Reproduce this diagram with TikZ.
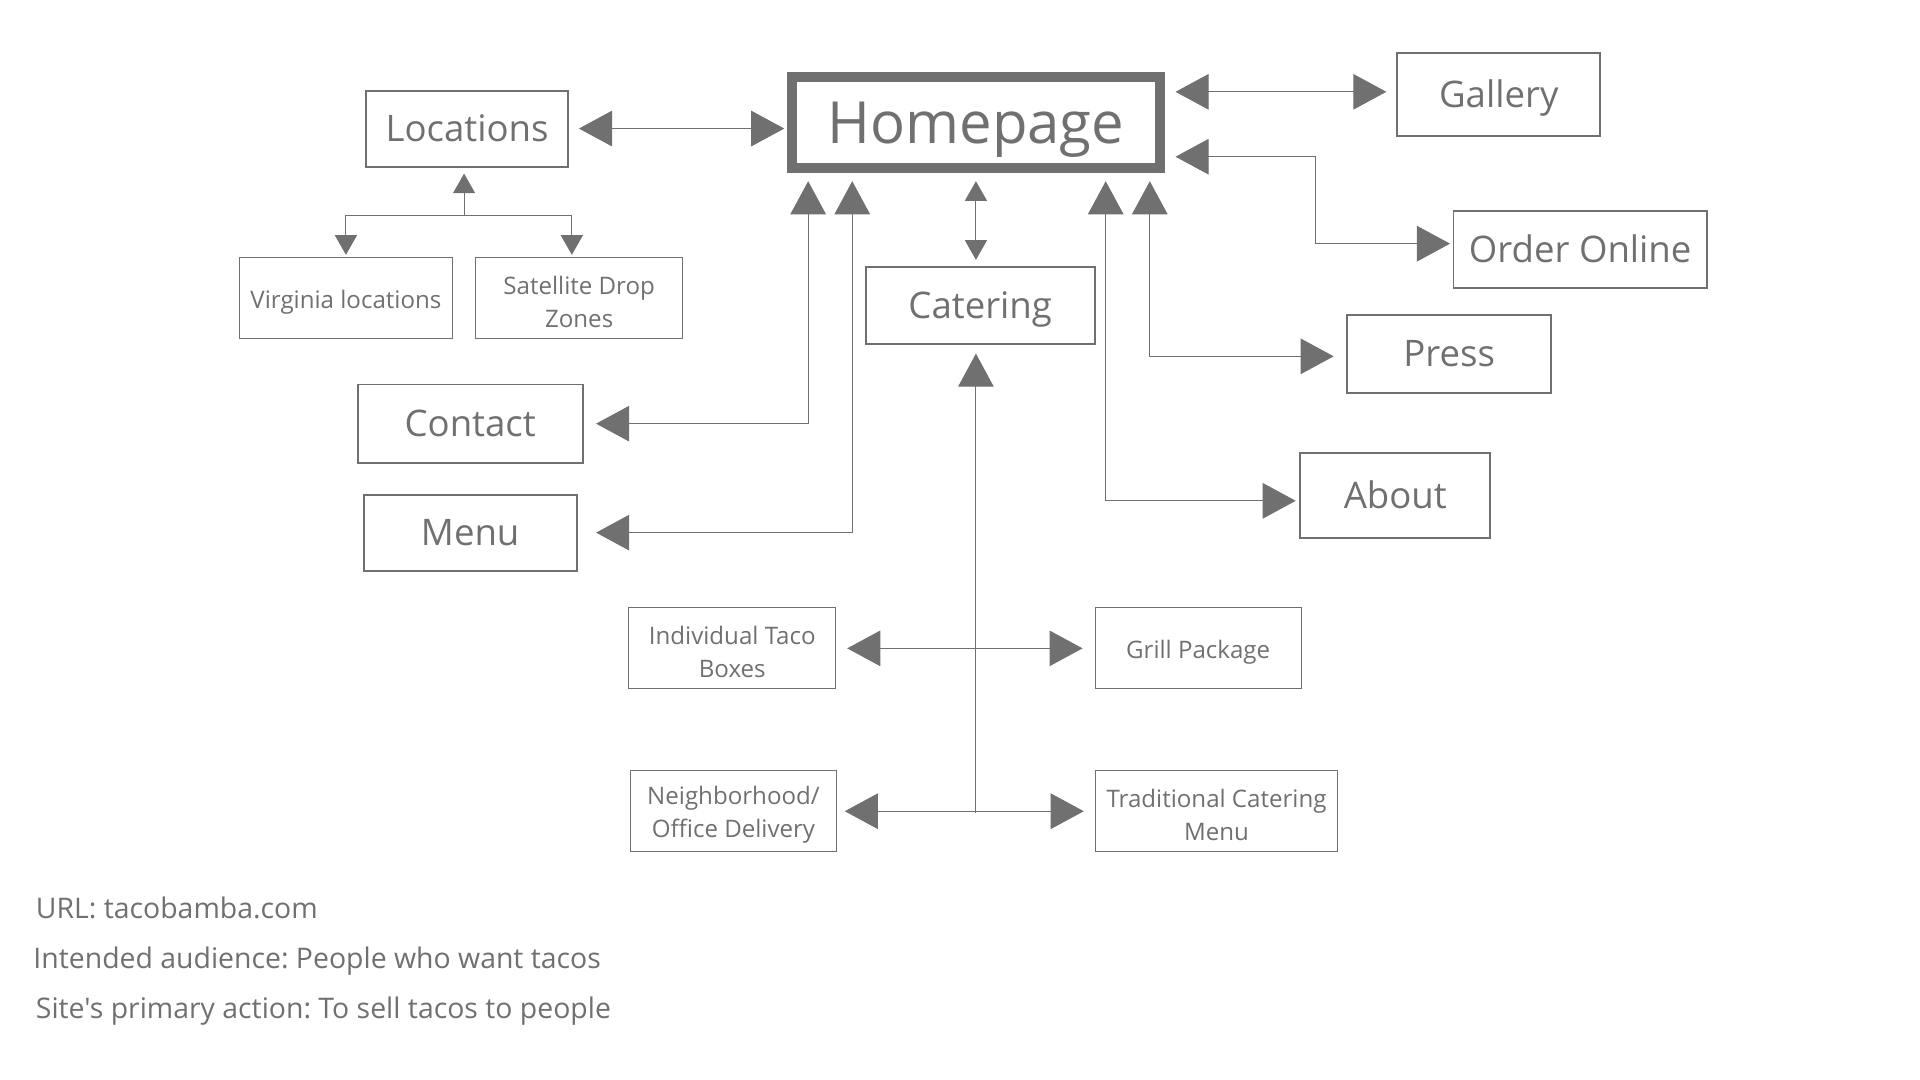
\documentclass[tikz,border=0pt]{standalone}
\usepackage{fontspec}
\setmainfont{Open Sans}
\usepackage{tikz}
\usetikzlibrary{
    arrows.meta,
    calc
}
\definecolor{mapGray}{RGB}{112, 112, 112}

\tikzset{
    homebox/.style={draw=mapGray, line width=1.6mm, text=mapGray, inner sep=0pt,
        font=\fontsize{27}{32}\selectfont, text height=19.3pt, text depth=0pt},
    page/.style={draw=mapGray, line width=0.32mm, text=mapGray, inner sep=0pt,
        font=\fontsize{17}{20}\selectfont, text height=12.1pt, text depth=0pt},
    subpage/.style={draw=mapGray, line width=0.16mm, text=mapGray, inner sep=0pt,
        align=center, minimum height=13.2mm, text height=11.9pt,
        font=\fontsize{11.2}{15.4}\selectfont},
    subpage2/.style={subpage, text height=27.3pt},
    note/.style={anchor=base west, inner sep=0pt, text=mapGray,
        font=\fontsize{13.2}{16}\selectfont\addfontfeatures{Ligatures=TeXOff}\frenchspacing},
    link/.style={draw=mapGray, line width=0.16mm},
    bighead/.tip={Triangle[length=5.4mm, width=5.8mm]},
    smallhead/.tip={Triangle[length=3.2mm, width=3.6mm]}
}

\begin{document}
\begin{tikzpicture}[x=0.2mm, y=-0.2mm]
    \useasboundingbox (0,0) rectangle (1568,882);

    % pages
    \node[homebox, minimum width=60mm, minimum height=14.8mm] (home) at (797,100) {Homepage};
    \node[page, minimum width=33mm, minimum height=12.4mm] (loc) at (381.5,105) {Locations};
    \node[page, minimum width=33.2mm, minimum height=13.6mm] (gallery) at (1224,77) {Gallery};
    \node[page, minimum width=41.4mm, minimum height=12.6mm] (order) at (1290.5,203.5) {Order Online};
    \node[page, minimum width=33.4mm, minimum height=12.8mm] (press) at (1183.5,289) {Press};
    \node[page, minimum width=31mm, minimum height=13.8mm] (about) at (1139.5,404.5) {About};
    \node[page, minimum width=37.4mm, minimum height=12.6mm] (catering) at (800.5,249.5) {Catering};
    \node[page, minimum width=36.8mm, minimum height=12.8mm] (contact) at (384,346) {Contact};
    \node[page, minimum width=34.8mm, minimum height=12.4mm] (menu) at (384,435) {Menu};

    % sub pages
    \node[subpage, minimum width=34.8mm] (virginia) at (282.5,243.5) {Virginia locations};
    \node[subpage2, minimum width=33.8mm] (satellite) at (473,243.5) {Satellite Drop\\Zones};
    \node[subpage2, minimum width=33.8mm] (taco) at (598,529.5) {Individual Taco\\Boxes};
    \node[subpage, minimum width=33.6mm] (grill) at (978.5,529.5) {Grill Package};
    \node[subpage2, minimum width=33.8mm] (hood) at (599,662.5) {Neighborhood/\\Office Delivery};
    \node[subpage2, minimum width=39.6mm] (trad) at (993.5,662.5) {Traditional Catering\\Menu};

    % links from the homepage
    \draw[link, {bighead}-{bighead}, shorten <=1.6mm, shorten >=0.5mm] (loc.east) -- (loc.east -| home.west);
    \draw[link, {bighead}-{bighead}, shorten <=1.8mm, shorten >=1.6mm] ($(home.east)+(0,-25)$) -- ($(gallery.west)+(0,-2)$);
    \draw[link, {bighead}-{bighead}, shorten <=1.8mm, shorten >=0.4mm] ($(home.east)+(0,28)$) -- ++(123,0) |- ($(order.west)+(0,-4.5)$);
    \draw[link, {bighead}-{bighead}, shorten <=1.4mm, shorten >=2mm] ($(home.south)+(142,0)$) |- ($(press.west)+(0,2)$);
    \draw[link, {bighead}-{bighead}, shorten <=1.4mm, shorten >=0.6mm] ($(home.south)+(106,0)$) |- ($(about.west)+(0,4.5)$);
    \draw[link, {bighead}-{bighead}, shorten <=1.4mm, shorten >=2mm] ($(home.south)+(-137,0)$) |- (contact.east);
    \draw[link, {bighead}-{bighead}, shorten <=1.4mm, shorten >=3mm] ($(home.south)+(-101,0)$) |- (menu.east);
    \draw[link, {smallhead}-{smallhead}, shorten <=1.4mm, shorten >=1mm] (home.south) -- (home.south |- catering.north);

    % locations
    \coordinate (split) at (379,176);
    \draw[link, -{smallhead}, shorten >=1mm] (split) -- (split |- loc.south);
    \draw[link, -{smallhead}, shorten >=0.4mm] (split) -| (virginia.north);
    \draw[link, -{smallhead}, shorten >=0.4mm] (split) -| ($(satellite.north)+(-6,0)$);

    % catering
    \coordinate (spine) at (797,664);
    \draw[link, -{bighead}, shorten >=1.4mm] (spine) -- (spine |- catering.south);
    \draw[link, {bighead}-{bighead}, shorten <=1.8mm, shorten >=2mm] (taco.east) -- (grill.west);
    \draw[link, {bighead}-{bighead}, shorten <=1.2mm, shorten >=1.8mm] (hood.east) -- (trad.west);

    % site notes
    \node[note] (url) at (29,750) {URL: tacobamba.com};
    \node[note] (audience) at (27,791) {Intended audience: People who want tacos};
    \node[note] (action) at (29,832) {Site's primary action: To sell tacos to people};
\end{tikzpicture}
\end{document}
